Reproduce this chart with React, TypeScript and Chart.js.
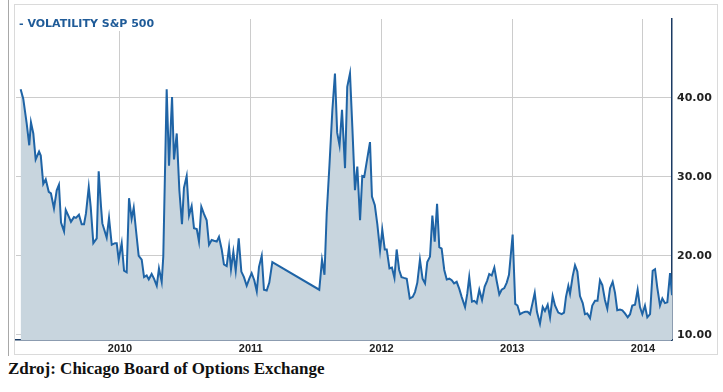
import React, { useEffect, useRef } from "react";
import { Chart, registerables } from "chart.js";

Chart.register(...registerables);

const seriesLabel = "VOLATILITY S&P 500";
const sourceNote = "Zdroj: Chicago Board of Options Exchange";
const yearTicks = [2010, 2011, 2012, 2013, 2014];
const valueTicks = [10, 20, 30, 40];

// weekly observations, x as decimal year
const dateYears = [
  2009.240, 2009.260, 2009.286, 2009.306, 2009.319, 2009.337, 2009.355, 2009.381, 2009.394, 2009.413,
  2009.432, 2009.455, 2009.472, 2009.495, 2009.516, 2009.533, 2009.549, 2009.572, 2009.585, 2009.610,
  2009.625, 2009.648, 2009.663, 2009.686, 2009.707, 2009.725, 2009.740, 2009.761, 2009.776, 2009.796,
  2009.822, 2009.837, 2009.855, 2009.865, 2009.898, 2009.916, 2009.937, 2009.962, 2009.975, 2009.990,
  2010.013, 2010.031, 2010.051, 2010.069, 2010.089, 2010.105, 2010.122, 2010.143, 2010.166, 2010.184,
  2010.204, 2010.220, 2010.242, 2010.260, 2010.281, 2010.298, 2010.319, 2010.331, 2010.357, 2010.375,
  2010.398, 2010.413, 2010.434, 2010.454, 2010.474, 2010.489, 2010.510, 2010.528, 2010.548, 2010.566,
  2010.587, 2010.604, 2010.622, 2010.642, 2010.663, 2010.681, 2010.701, 2010.719, 2010.740, 2010.757,
  2010.778, 2010.795, 2010.816, 2010.834, 2010.849, 2010.867, 2010.885, 2010.908, 2010.928, 2010.948,
  2010.969, 2010.989, 2011.007, 2011.027, 2011.046, 2011.063, 2011.084, 2011.101, 2011.122, 2011.142,
  2011.165, 2011.524, 2011.545, 2011.564, 2011.581, 2011.602, 2011.624, 2011.644, 2011.661, 2011.679,
  2011.698, 2011.721, 2011.738, 2011.759, 2011.777, 2011.797, 2011.815, 2011.836, 2011.853, 2011.868,
  2011.891, 2011.912, 2011.927, 2011.949, 2011.968, 2011.989, 2012.006, 2012.025, 2012.040, 2012.061,
  2012.080, 2012.099, 2012.116, 2012.135, 2012.153, 2012.172, 2012.193, 2012.216, 2012.239, 2012.256,
  2012.274, 2012.294, 2012.314, 2012.333, 2012.350, 2012.371, 2012.389, 2012.407, 2012.425, 2012.442,
  2012.460, 2012.480, 2012.499, 2012.519, 2012.537, 2012.555, 2012.575, 2012.595, 2012.613, 2012.639,
  2012.656, 2012.671, 2012.692, 2012.710, 2012.728, 2012.748, 2012.769, 2012.789, 2012.807, 2012.824,
  2012.843, 2012.863, 2012.881, 2012.901, 2012.919, 2012.939, 2012.958, 2012.975, 2013.003, 2013.023,
  2013.040, 2013.059, 2013.080, 2013.099, 2013.118, 2013.136, 2013.155, 2013.172, 2013.189, 2013.212,
  2013.233, 2013.250, 2013.271, 2013.289, 2013.309, 2013.327, 2013.352, 2013.378, 2013.396, 2013.411,
  2013.429, 2013.442, 2013.462, 2013.480, 2013.498, 2013.518, 2013.539, 2013.556, 2013.574, 2013.595,
  2013.612, 2013.633, 2013.652, 2013.671, 2013.689, 2013.709, 2013.727, 2013.748, 2013.768, 2013.786,
  2013.803, 2013.824, 2013.842, 2013.862, 2013.883, 2013.901, 2013.918, 2013.939, 2013.959, 2013.977,
  2013.995, 2014.015, 2014.033, 2014.054, 2014.074, 2014.092, 2014.109, 2014.130, 2014.148, 2014.168,
  2014.186, 2014.207, 2014.222,
];

const vixValues = [
  41.1, 39.9, 36.8, 34.0, 36.9, 35.5, 32.2, 33.2, 32.7, 29.1,
  29.7, 28.1, 27.9, 26.0, 28.3, 29.0, 24.2, 23.1, 25.8, 24.9,
  24.3, 24.9, 24.8, 25.2, 24.0, 24.0, 25.4, 28.7, 26.2, 21.6,
  22.2, 30.7, 26.2, 24.1, 22.3, 24.8, 21.4, 21.6, 21.6, 19.5,
  21.6, 18.1, 17.9, 27.3, 24.7, 26.1, 23.3, 20.0, 19.5, 17.3,
  17.5, 17.0, 17.7, 17.1, 16.2, 18.4, 16.7, 19.9, 41.1, 31.4,
  40.1, 32.2, 35.5, 28.3, 24.0, 28.6, 30.1, 25.1, 26.3, 23.5,
  23.4, 21.8, 26.2, 25.3, 24.5, 21.4, 22.0, 21.9, 21.8, 22.4,
  20.8, 18.9, 18.7, 21.1, 18.3, 20.5, 18.1, 22.2, 18.0, 17.3,
  16.2, 17.1, 17.8, 16.9, 15.5, 18.6, 20.0, 15.7, 15.6, 16.6,
  19.2, 15.7, 19.5, 17.6, 25.4, 31.5, 38.4, 43.1, 35.6, 34.0,
  38.5, 31.1, 41.4, 43.1, 36.3, 28.3, 31.3, 24.5, 30.1, 30.0,
  32.3, 34.4, 27.5, 26.4, 24.0, 20.7, 23.3, 20.8, 20.8, 18.4,
  18.5, 17.2, 20.8, 18.2, 17.3, 17.2, 17.1, 14.6, 14.8, 15.4,
  16.6, 19.5, 17.1, 16.5, 19.2, 19.9, 25.1, 21.8, 26.6, 21.1,
  20.9, 18.2, 17.0, 17.1, 16.9, 16.5, 16.7, 15.8, 14.8, 13.5,
  15.2, 17.3, 14.2, 14.3, 14.0, 15.7, 14.4, 16.1, 16.8, 17.7,
  17.5, 18.5, 16.8, 15.1, 15.7, 15.9, 16.6, 17.6, 22.7, 13.9,
  13.7, 12.6, 12.8, 12.9, 12.9, 12.6, 14.0, 15.3, 12.9, 11.4,
  13.5, 13.0, 13.8, 12.2, 14.9, 13.7, 12.8, 12.6, 12.8, 14.8,
  16.2, 15.2, 17.4, 18.8, 18.0, 14.9, 14.0, 12.6, 12.7, 12.1,
  13.7, 14.3, 14.3, 16.9, 16.3, 14.4, 13.3, 15.9, 16.7, 15.3,
  13.1, 13.2, 13.1, 12.7, 12.2, 12.6, 13.7, 13.8, 15.7, 13.5,
  12.6, 13.7, 12.2, 12.6, 18.1, 18.3, 16.0, 13.7, 14.6, 14.0,
  14.1, 17.8, 15.0,
];

export default function App() {
  const ref = useRef<HTMLCanvasElement | null>(null);

  useEffect(() => {
    if (!ref.current) return;
    const framePlugin = {
      id: "frame",
      beforeDraw(c: any) {
        const ctx = c.ctx;
        ctx.save();
        ctx.fillStyle = "#ffffff";
        ctx.fillRect(0, 0, c.width, c.height);
        ctx.lineWidth = 1;
        ctx.strokeStyle = "#a8a8a8";
        ctx.beginPath();
        ctx.moveTo(8.5, 0);
        ctx.lineTo(8.5, 356);
        ctx.stroke();
        ctx.strokeStyle = "#dadada";
        ctx.strokeRect(14.5, 4.5, 703, 350);
        ctx.restore();
      },
      afterDraw(c: any) {
        const ctx = c.ctx;
        ctx.save();
        ctx.fillStyle = "#ffffff";
        ctx.fillRect(17, 19, 145, 12);
        ctx.fillStyle = "#1f5b98";
        ctx.font = 'bold 11px "DejaVu Sans"';
        ctx.textBaseline = "middle";
        ctx.textAlign = "left";
        ctx.fillText("- " + seriesLabel, 19, 24.5);
        ctx.restore();
      },
    };

    const chart = new Chart(ref.current, {
      type: "line",
      data: {
        datasets: [
          {
            label: seriesLabel,
            data: dateYears.map((x, i) => ({ x, y: vixValues[i] })),
            borderColor: "#1f64a6",
            borderWidth: 2,
            backgroundColor: "#c8d5de",
            fill: "start",
            pointRadius: 0,
            tension: 0,
          },
        ],
      },
      options: {
        animation: false,
        responsive: false,
        layout: { padding: { left: 16, top: 19, right: 0, bottom: 0 } },
        plugins: { legend: { display: false }, tooltip: { enabled: false } },
        scales: {
          x: {
            type: "linear",
            min: 2009.2046,
            max: 2014.2218,
            afterBuildTicks: (s: any) => {
              s.ticks = yearTicks.map((v) => ({ value: v }));
            },
            afterFit: (s: any) => {
              s.height = 18;
            },
            grid: { color: "#cccccc", drawTicks: false, lineWidth: 1 },
            border: { color: "#1b3b63", width: 1.5 },
            ticks: {
              padding: 2,
              color: "#222222",
              autoSkip: false,
              maxRotation: 0,
              font: { family: '"Liberation Sans", Arial, sans-serif', size: 11, weight: "bold" },
              callback: (v: any) => String(v),
            },
          },
          y: {
            position: "right",
            min: 9.33,
            max: 50,
            afterBuildTicks: (s: any) => {
              s.ticks = valueTicks.map((v) => ({ value: v }));
            },
            afterFit: (s: any) => {
              s.width = 51;
            },
            grid: { color: "#cccccc", drawTicks: false, lineWidth: 1 },
            border: { color: "#1b3b63", width: 1.5 },
            ticks: {
              padding: 5,
              color: "#222222",
              font: { family: '"DejaVu Sans", Verdana, sans-serif', size: 11, weight: "bold" },
              callback: (v: any) => Number(v).toFixed(2),
            },
          },
        },
      },
      plugins: [framePlugin],
    });
    return () => chart.destroy();
  }, []);

  return (
    <div style={{ position: "absolute", left: 0, top: 0, width: 723, height: 392, background: "#fff" }}>
      <canvas ref={ref} width={723} height={358} style={{ display: "block", width: 723, height: 358 }} />
      <div
        style={{
          position: "absolute",
          left: 8,
          top: 359,
          font: 'bold 17px "Liberation Serif", "Times New Roman", serif',
          color: "#111111",
          whiteSpace: "nowrap",
        }}
      >
        {sourceNote}
      </div>
    </div>
  );
}
